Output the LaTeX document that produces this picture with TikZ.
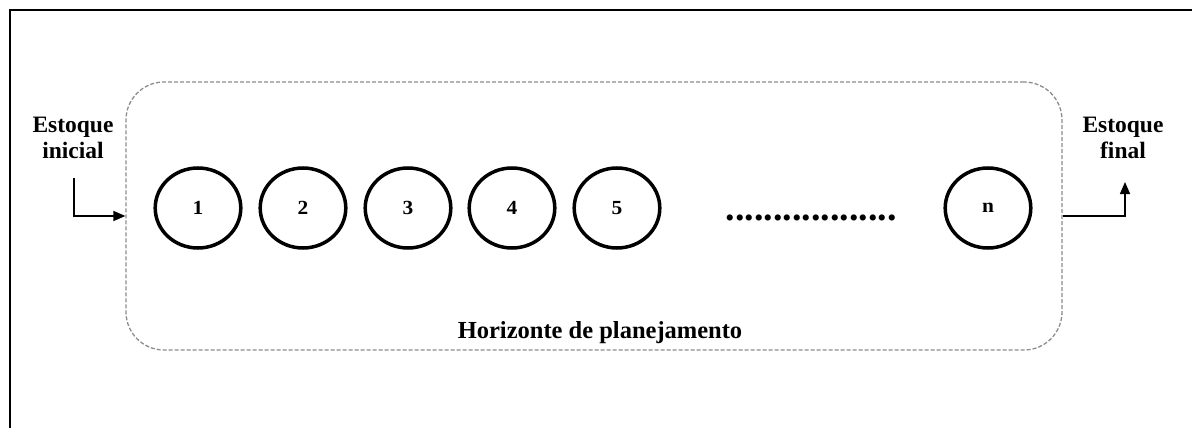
\documentclass[tikz,border=0pt]{standalone}
\usepackage{fontspec}
\setmainfont{Liberation Serif}
\usetikzlibrary{arrows.meta}
\tikzset{
  stage/.style={draw=black, line width=3.5pt, circle, minimum size=80pt, inner sep=0pt,
    font=\bfseries\fontsize{20}{22}\selectfont},
  label/.style={align=center, font=\bfseries\fontsize{23.5}{25.5}\selectfont},
  caption/.style={font=\bfseries\fontsize{24.5}{26}\selectfont},
  flow/.style={line width=1.5pt, -{Triangle[length=12pt,width=10pt]}},
  horizonbox/.style={draw=black!45, dash pattern=on 4pt off 2pt, line width=1.3pt,
    rounded corners=38pt, minimum width=936pt, minimum height=268pt}
}
\begin{document}
\begin{tikzpicture}[x=1pt, y=-1pt]
  \useasboundingbox (0,0) rectangle (1192,428);
  % outer frame
  \draw[line width=2pt] (10,430) -- (10,10) -- (1194,10);

  % planning horizon
  \node[horizonbox] (horizon) at (594,216) {};
  \node[caption] (horizontext) at (600,333) {Horizonte de planejamento};

  % periods
  \foreach \name/\x/\t in {p1/198/1, p2/303/2, p3/408/3, p4/512/4, p5/617/5, pn/988/n}
    \node[stage, xscale=1.07] (\name) at (\x,208) {\t};
  \node[font=\bfseries\fontsize{38}{40}\selectfont] (dots) at (811,218) {..................};

  % initial and final stock
  \node[label] (inicial) at (73,138) {Estoque\\inicial};
  \node[label] (final) at (1123,138) {Estoque\\final};
  \coordinate (inStart) at (74,178);
  \coordinate (outEnd) at (1125,182);
  \draw[flow] (inStart) |- (horizon.west);
  \draw[flow] (horizon.east) -| (outEnd);
\end{tikzpicture}
\end{document}
